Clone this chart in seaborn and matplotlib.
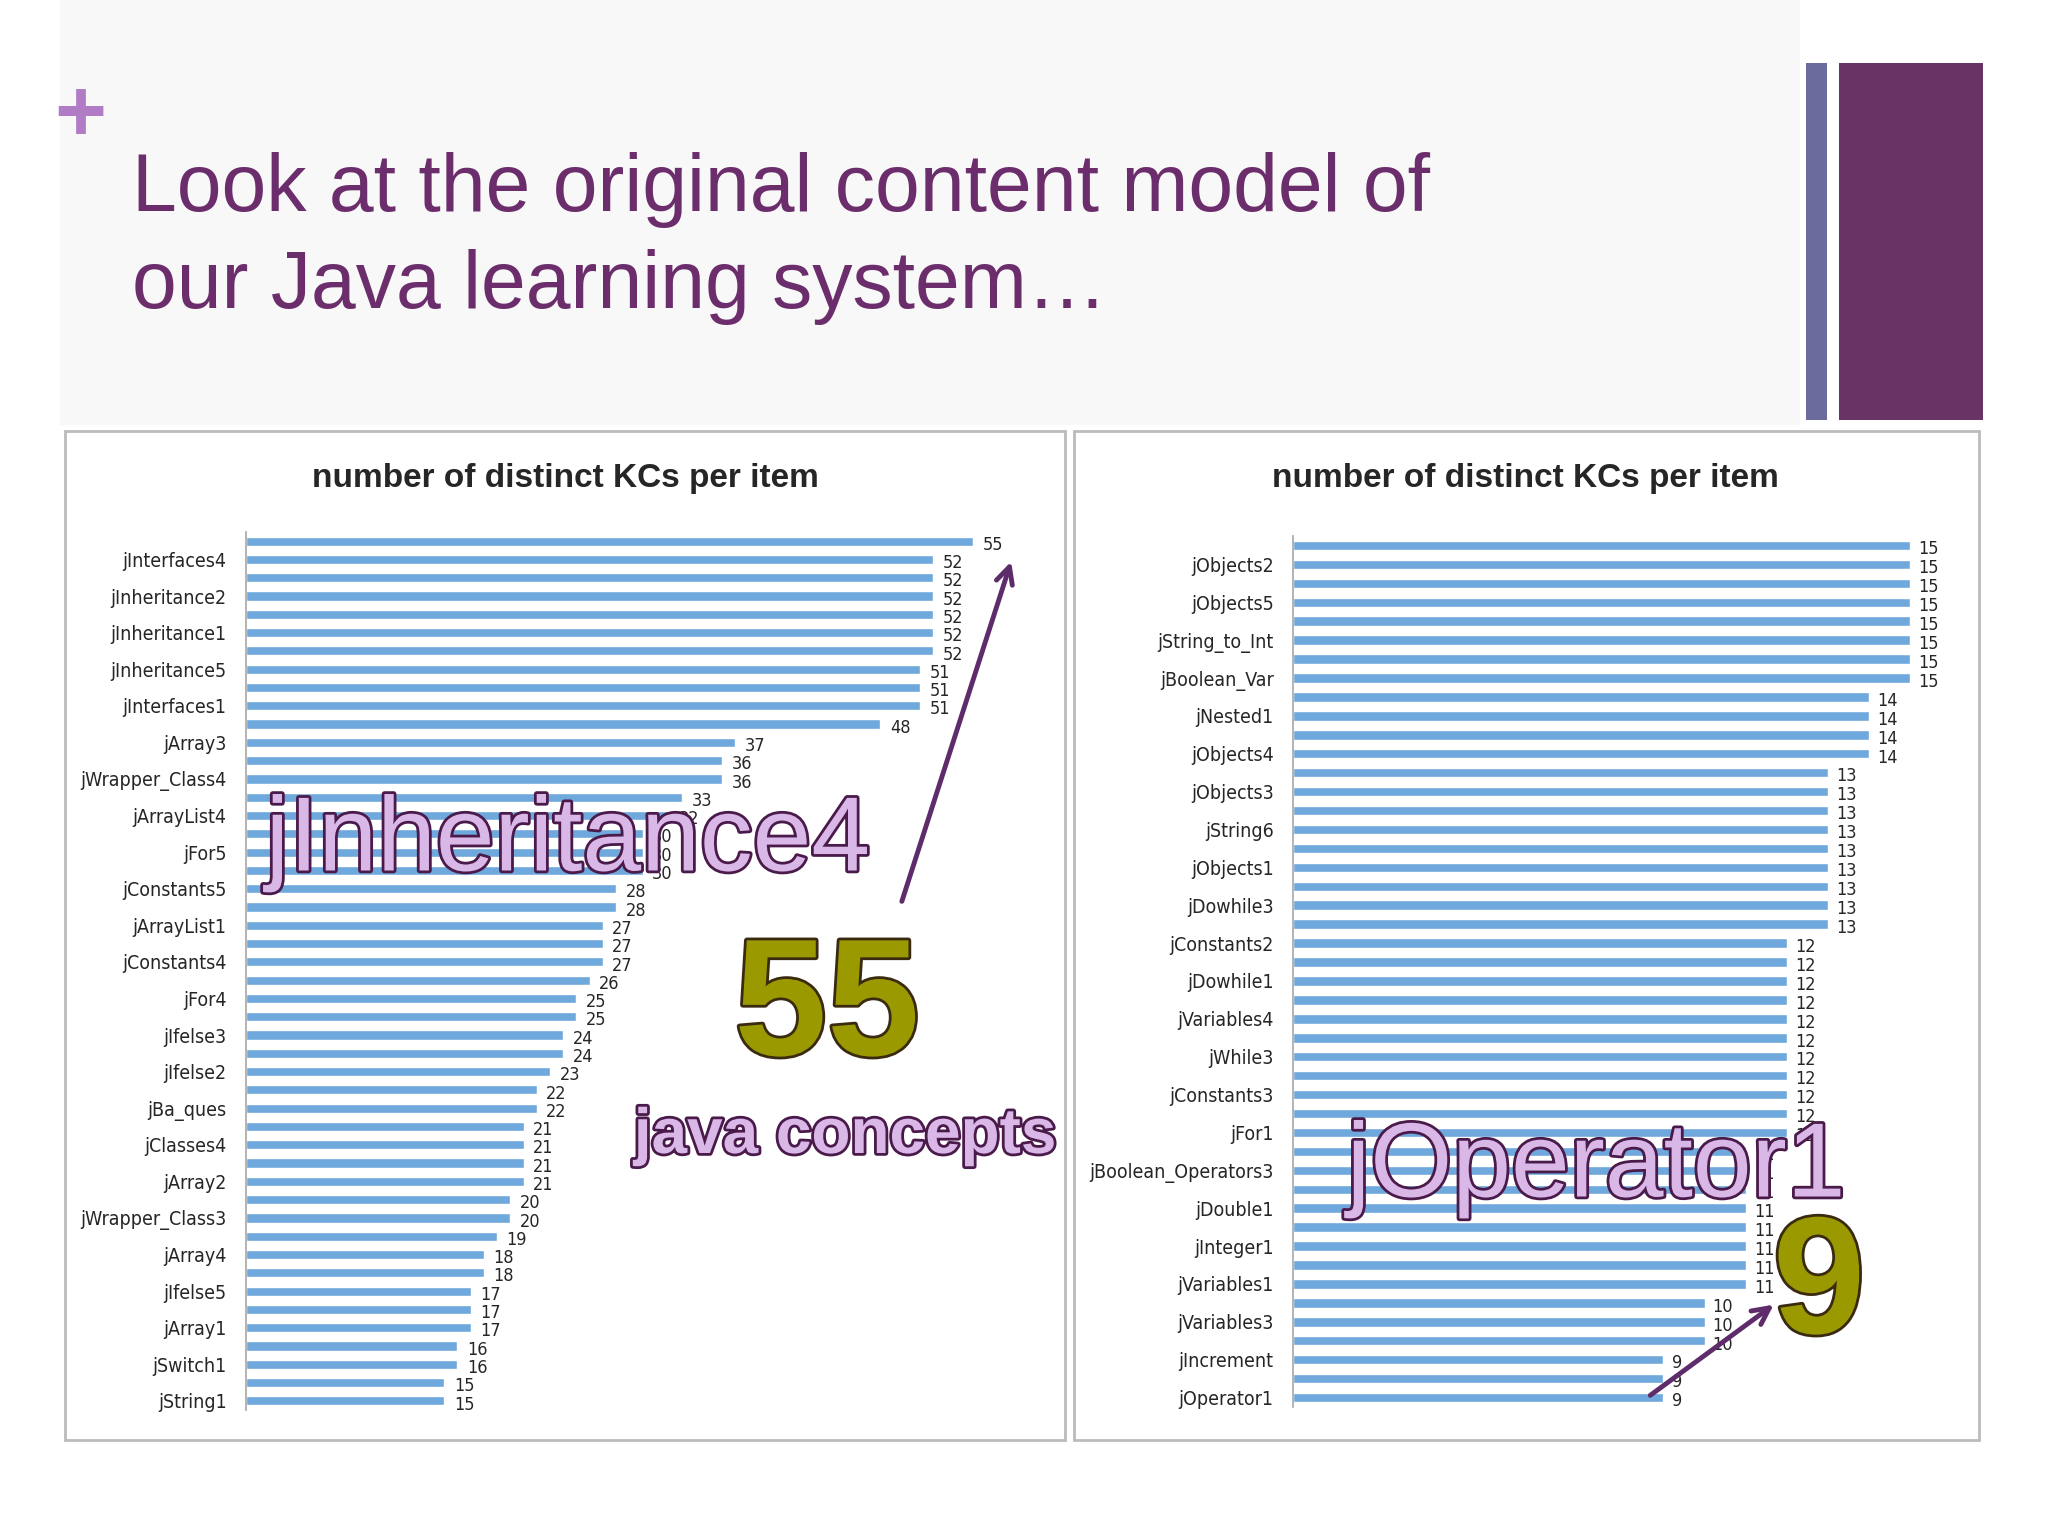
import numpy as np
import pandas as pd
import matplotlib
matplotlib.use("Agg")
import matplotlib.pyplot as plt
import matplotlib.patheffects as pe
from matplotlib.patches import Rectangle, FancyArrowPatch
import seaborn as sns

# ---- data ----
left_values = [55, 52, 52, 52, 52, 52, 52, 51, 51, 51, 48, 37, 36, 36, 33, 32,
               30, 30, 30, 28, 28, 27, 27, 27, 26, 25, 25, 24, 24, 23, 22, 22,
               21, 21, 21, 21, 20, 20, 19, 18, 18, 17, 17, 17, 16, 16, 15, 15]
left_labels = ['jInterfaces4', 'jInheritance2', 'jInheritance1', 'jInheritance5',
               'jInterfaces1', 'jArray3', 'jWrapper_Class4', 'jArrayList4', 'jFor5',
               'jConstants5', 'jArrayList1', 'jConstants4', 'jFor4', 'jIfelse3',
               'jIfelse2', 'jBa_ques', 'jClasses4', 'jArray2', 'jWrapper_Class3',
               'jArray4', 'jIfelse5', 'jArray1', 'jSwitch1', 'jString1']

right_values = [15] * 8 + [14] * 4 + [13] * 9 + [12] * 11 + [11] * 8 + [10] * 3 + [9] * 3
right_labels = ['jObjects2', 'jObjects5', 'jString_to_Int', 'jBoolean_Var', 'jNested1',
                'jObjects4', 'jObjects3', 'jString6', 'jObjects1', 'jDowhile3',
                'jConstants2', 'jDowhile1', 'jVariables4', 'jWhile3', 'jConstants3',
                'jFor1', 'jBoolean_Operators3', 'jDouble1', 'jInteger1', 'jVariables1',
                'jVariables3', 'jIncrement', 'jOperator1']

chart_title = 'number of distinct KCs per item'
BAR = '#6FA8DC'
PURPLE = '#6B2D6B'

sns.set_theme(style='white')
plt.rcParams['font.family'] = ['Liberation Sans', 'DejaVu Sans']

W, H = 2048, 1536
fig = plt.figure(figsize=(20.48, 15.36), dpi=100)
fig.patch.set_facecolor('white')


def fx(px):
    return px / W


def fy(py):
    return 1 - py / H


# slide background band and decorations
fig.patches.append(Rectangle((fx(60), fy(425)), fx(1740), 425 / H, transform=fig.transFigure,
                             facecolor='#F8F8F8', edgecolor='none', zorder=-3))
fig.patches.append(Rectangle((fx(1806), fy(420)), fx(21), 357 / H, transform=fig.transFigure,
                             facecolor='#6B6B9E', edgecolor='none', zorder=-2))
fig.patches.append(Rectangle((fx(1839), fy(420)), fx(144), 357 / H, transform=fig.transFigure,
                             facecolor='#6A3366', edgecolor='none', zorder=-2))
fig.text(fx(80), fy(118), '+', fontsize=64, color='#B07CC6', ha='center', va='center',
         fontweight='bold')
fig.text(fx(132), fy(190), 'Look at the original content model of', fontsize=58,
         color=PURPLE, ha='left', va='center')
fig.text(fx(132), fy(287), 'our Java learning system\u2026', fontsize=58,
         color=PURPLE, ha='left', va='center')

# panel boxes
for x0, x1 in [(65, 1065), (1074, 1979)]:
    fig.patches.append(Rectangle((fx(x0), fy(1440)), fx(x1 - x0), (1440 - 431) / H,
                                 transform=fig.transFigure, facecolor='white',
                                 edgecolor='#BBBBBB', linewidth=2, zorder=-1))
fig.text(fx(565), fy(478), chart_title, fontsize=24, fontweight='bold', ha='center',
         va='center', fontstretch='condensed')
fig.text(fx(1525), fy(478), chart_title, fontsize=24, fontweight='bold', ha='center',
         va='center', fontstretch='condensed')


def draw_panel(rect, values, labels, xmax):
    ax = fig.add_axes(rect)
    df = pd.DataFrame({'pos': np.arange(len(values)), 'val': values})
    sns.barplot(data=df, x='val', y='pos', orient='h', native_scale=True,
                color=BAR, width=0.5, saturation=1, ax=ax)
    ax.set_xlim(0, xmax)
    ax.set_ylim(len(values) - 0.5, -0.5)
    for p, v in zip(df['pos'], df['val']):
        ax.text(v + xmax * 0.012, p + 0.2, str(v), fontsize=13, va='center', ha='left',
                family='DejaVu Sans', fontstretch='condensed')
    ax.set_yticks(np.arange(1, len(values), 2))
    ax.set_yticklabels(labels, fontsize=14, family='DejaVu Sans', fontstretch='condensed')
    ax.set_xticks([])
    ax.set_xlabel('')
    ax.set_ylabel('')
    ax.tick_params(axis='y', length=0, pad=14)
    for s in ['top', 'right', 'bottom']:
        ax.spines[s].set_visible(False)
    ax.spines['left'].set_color('#AAAAAA')
    ax.patch.set_alpha(0)
    return ax


draw_panel([fx(246), fy(1410), fx(793), (1410 - 532) / H], left_values, left_labels, 60)
draw_panel([fx(1293), fy(1407), fx(679), (1407 - 536) / H], right_values, right_labels, 16.5)

outline = [pe.withStroke(linewidth=4, foreground='#4A1A4A')]
olive = [pe.withStroke(linewidth=4, foreground='#3A2A10')]
fig.text(fx(568), fy(843), 'jInheritance4', fontsize=76, color='#D9B8E8', ha='center',
         va='center', path_effects=outline, zorder=10)
fig.text(fx(827), fy(1012), '55', fontsize=120, color='#9A9A00', ha='center', va='center',
         fontweight='bold', path_effects=olive, zorder=10)
fig.text(fx(845), fy(1136), 'java concepts', fontsize=46, color='#D9B8E8', ha='center',
         va='center', fontweight='bold', path_effects=outline, zorder=10)
fig.text(fx(1596), fy(1169), 'jOperator1', fontsize=76, color='#D9B8E8', ha='center',
         va='center', path_effects=outline, zorder=10)
fig.text(fx(1819), fy(1290), '9', fontsize=120, color='#9A9A00', ha='center', va='center',
         fontweight='bold', path_effects=olive, zorder=10)

for (x0, y0), (x1, y1) in [((901, 904), (1012, 559)), ((1648, 1397), (1776, 1303))]:
    fig.patches.append(FancyArrowPatch((fx(x0), fy(y0)), (fx(x1), fy(y1)),
                                       transform=fig.transFigure, arrowstyle='->',
                                       mutation_scale=30, linewidth=3.5, color='#5E2C6A',
                                       zorder=11))

fig.savefig('out.png', dpi=100)
